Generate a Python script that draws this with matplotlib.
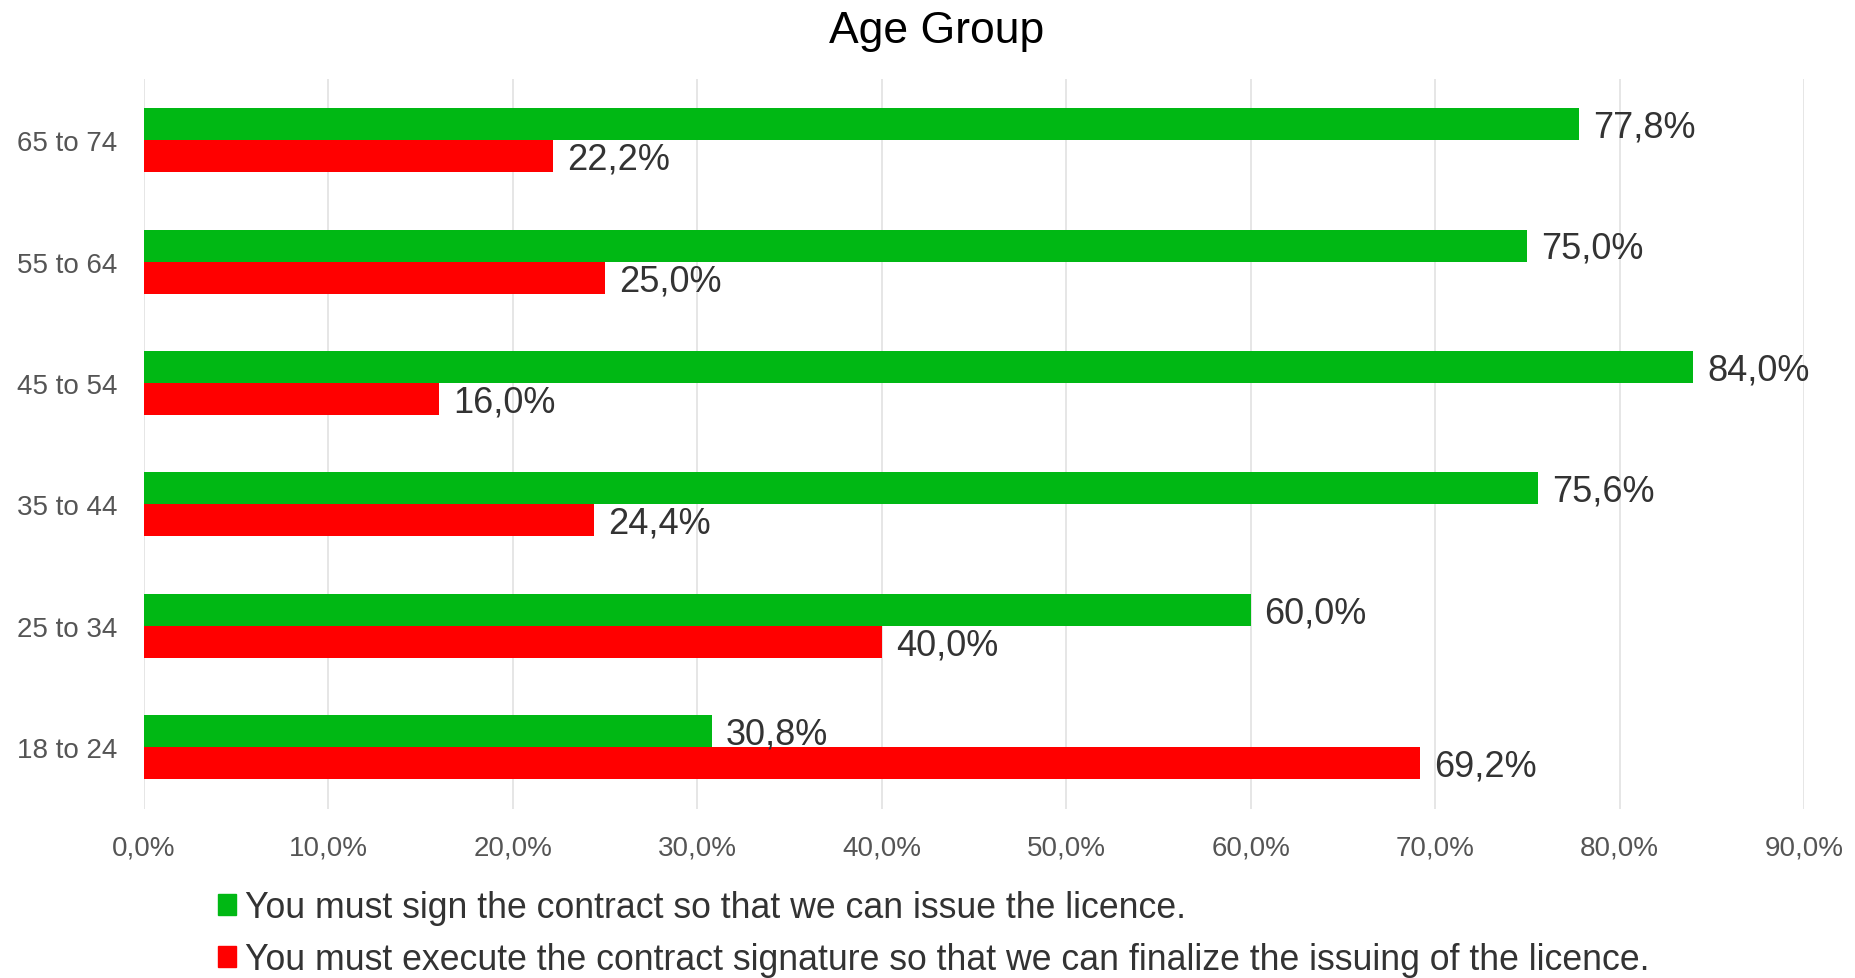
import matplotlib
matplotlib.use("Agg")
import matplotlib.pyplot as plt
from matplotlib.patches import Patch
import numpy as np

# data
age_groups = ["18 to 24", "25 to 34", "35 to 44", "45 to 54", "55 to 64", "65 to 74"]
sign_pct = [30.8, 60.0, 75.6, 84.0, 75.0, 77.8]
execute_pct = [69.2, 40.0, 24.4, 16.0, 25.0, 22.2]
series_names = [
    "You must sign the contract so that we can issue the licence.",
    "You must execute the contract signature so that we can finalize the issuing of the licence.",
]
x_ticks = [0, 10, 20, 30, 40, 50, 60, 70, 80, 90]

GREEN = "#00b814"
RED = "#ff0000"
TEXT = "#333333"

plt.rcParams['font.family'] = ['Liberation Sans', 'DejaVu Sans']

fig = plt.figure(figsize=(18.55, 9.79), dpi=100)
ax = fig.add_axes([0.0776, 0.1726, 0.8949, 0.7456])

y = np.arange(len(age_groups))
h = 0.264
b1 = ax.barh(y + h / 2, sign_pct, height=h, color=GREEN, zorder=2)
b2 = ax.barh(y - h / 2, execute_pct, height=h, color=RED, zorder=2)

for bars, vals in ((b1, sign_pct), (b2, execute_pct)):
    for bar, v in zip(bars, vals):
        ax.annotate(f"{v:.1f}%".replace(".", ","),
                    xy=(bar.get_width(), bar.get_y() + bar.get_height() / 2),
                    xytext=(10, -2), textcoords="offset points",
                    ha="left", va="center", fontsize=26, color=TEXT)

ax.set_xlim(0, 90)
ax.set_ylim(-0.51, 5.505)
ax.set_xticks(x_ticks)
ax.set_xticklabels([f"{t:.1f}%".replace(".", ",") for t in x_ticks],
                   fontsize=20, color="#555555")
ax.set_yticks(y)
ax.set_yticklabels(age_groups, fontsize=20, color="#555555")
ax.tick_params(length=0)
ax.tick_params(axis="x", pad=18)
ax.tick_params(axis="y", pad=19)
ax.grid(axis="x", color="#e2e2e2", lw=1.2, zorder=0)
for s in ax.spines.values():
    s.set_visible(False)

fig.text(0.505, 0.968, "Age Group", fontsize=32, color="black", ha="center", va="center")

handles = [Patch(color=GREEN), Patch(color=RED)]
fig.legend(handles, series_names, loc="upper left", bbox_to_anchor=(0.108, 0.108),
           frameon=False, fontsize=25.7, handlelength=0.5, handleheight=0.5,
           handletextpad=0.25, labelspacing=0.48, labelcolor=TEXT, borderpad=0)

fig.savefig("out.png", dpi=100)
